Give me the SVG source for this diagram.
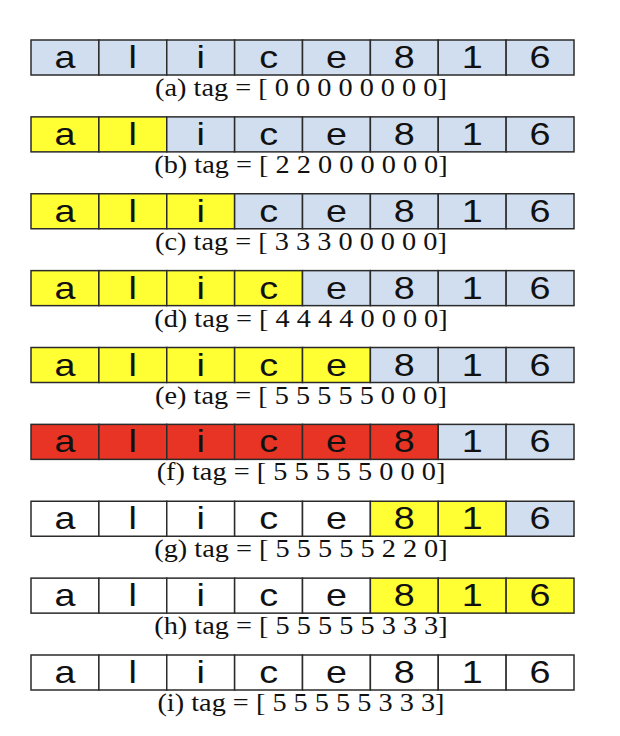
<svg xmlns="http://www.w3.org/2000/svg" width="620" height="736" viewBox="0 0 620 736">
<style>
.c rect{stroke:#2b2b2b;stroke-width:1.5}
.b{fill:#D0DEEF}
.y{fill:#FFFF33}
.r{fill:#E83424}
.w{fill:#FFFFFF}
.t{font-family:"Liberation Sans",Arial,sans-serif;font-size:32px;fill:#111;text-anchor:middle}
.l{font-family:"Liberation Serif","Times New Roman",serif;font-size:26px;fill:#111;text-anchor:middle}
</style>
<rect x="0" y="0" width="620" height="736" fill="#fff"/>
<defs>
<g id="letters">
<text class="t" transform="translate(64.9,28) scale(1.18,1)">a</text>
<text class="t" transform="translate(132.8,28) scale(1.18,1)">l</text>
<text class="t" transform="translate(200.7,28) scale(1.18,1)">i</text>
<text class="t" transform="translate(268.6,28) scale(1.18,1)">c</text>
<text class="t" transform="translate(336.4,28) scale(1.18,1)">e</text>
<text class="t" transform="translate(404.3,28) scale(1.18,1)">8</text>
<text class="t" transform="translate(472.2,28) scale(1.18,1)">1</text>
<text class="t" transform="translate(540.1,28) scale(1.18,1)">6</text>
</g>
</defs>
<g id="connectors"></g>

<g id="row-a" class="c" transform="translate(0,40)">
<rect class="b" x="31" y="0" width="67.875" height="35"/><rect class="b" x="98.875" y="0" width="67.875" height="35"/><rect class="b" x="166.75" y="0" width="67.875" height="35"/><rect class="b" x="234.625" y="0" width="67.875" height="35"/><rect class="b" x="302.5" y="0" width="67.875" height="35"/><rect class="b" x="370.375" y="0" width="67.875" height="35"/><rect class="b" x="438.25" y="0" width="67.875" height="35"/><rect class="b" x="506.125" y="0" width="67.875" height="35"/>
<use href="#letters"/>
<text class="l" x="301" y="56" textLength="291.8" lengthAdjust="spacingAndGlyphs">(a) tag = [ 0 0 0 0 0 0 0 0]</text>
</g>

<g id="row-b" class="c" transform="translate(0,116.875)">
<rect class="y" x="31" y="0" width="67.875" height="35"/><rect class="y" x="98.875" y="0" width="67.875" height="35"/><rect class="b" x="166.75" y="0" width="67.875" height="35"/><rect class="b" x="234.625" y="0" width="67.875" height="35"/><rect class="b" x="302.5" y="0" width="67.875" height="35"/><rect class="b" x="370.375" y="0" width="67.875" height="35"/><rect class="b" x="438.25" y="0" width="67.875" height="35"/><rect class="b" x="506.125" y="0" width="67.875" height="35"/>
<use href="#letters"/>
<text class="l" x="301" y="56" textLength="293.4" lengthAdjust="spacingAndGlyphs">(b) tag = [ 2 2 0 0 0 0 0 0]</text>
</g>

<g id="row-c" class="c" transform="translate(0,193.75)">
<rect class="y" x="31" y="0" width="67.875" height="35"/><rect class="y" x="98.875" y="0" width="67.875" height="35"/><rect class="y" x="166.75" y="0" width="67.875" height="35"/><rect class="b" x="234.625" y="0" width="67.875" height="35"/><rect class="b" x="302.5" y="0" width="67.875" height="35"/><rect class="b" x="370.375" y="0" width="67.875" height="35"/><rect class="b" x="438.25" y="0" width="67.875" height="35"/><rect class="b" x="506.125" y="0" width="67.875" height="35"/>
<use href="#letters"/>
<text class="l" x="301" y="56" textLength="291.8" lengthAdjust="spacingAndGlyphs">(c) tag = [ 3 3 3 0 0 0 0 0]</text>
</g>

<g id="row-d" class="c" transform="translate(0,270.625)">
<rect class="y" x="31" y="0" width="67.875" height="35"/><rect class="y" x="98.875" y="0" width="67.875" height="35"/><rect class="y" x="166.75" y="0" width="67.875" height="35"/><rect class="y" x="234.625" y="0" width="67.875" height="35"/><rect class="b" x="302.5" y="0" width="67.875" height="35"/><rect class="b" x="370.375" y="0" width="67.875" height="35"/><rect class="b" x="438.25" y="0" width="67.875" height="35"/><rect class="b" x="506.125" y="0" width="67.875" height="35"/>
<use href="#letters"/>
<text class="l" x="301" y="56" textLength="293.4" lengthAdjust="spacingAndGlyphs">(d) tag = [ 4 4 4 4 0 0 0 0]</text>
</g>

<g id="row-e" class="c" transform="translate(0,347.5)">
<rect class="y" x="31" y="0" width="67.875" height="35"/><rect class="y" x="98.875" y="0" width="67.875" height="35"/><rect class="y" x="166.75" y="0" width="67.875" height="35"/><rect class="y" x="234.625" y="0" width="67.875" height="35"/><rect class="y" x="302.5" y="0" width="67.875" height="35"/><rect class="b" x="370.375" y="0" width="67.875" height="35"/><rect class="b" x="438.25" y="0" width="67.875" height="35"/><rect class="b" x="506.125" y="0" width="67.875" height="35"/>
<use href="#letters"/>
<text class="l" x="301" y="56" textLength="291.8" lengthAdjust="spacingAndGlyphs">(e) tag = [ 5 5 5 5 5 0 0 0]</text>
</g>

<g id="row-f" class="c" transform="translate(0,424.375)">
<rect class="r" x="31" y="0" width="67.875" height="35"/><rect class="r" x="98.875" y="0" width="67.875" height="35"/><rect class="r" x="166.75" y="0" width="67.875" height="35"/><rect class="r" x="234.625" y="0" width="67.875" height="35"/><rect class="r" x="302.5" y="0" width="67.875" height="35"/><rect class="r" x="370.375" y="0" width="67.875" height="35"/><rect class="b" x="438.25" y="0" width="67.875" height="35"/><rect class="b" x="506.125" y="0" width="67.875" height="35"/>
<use href="#letters"/>
<text class="l" x="301" y="56" textLength="288.7" lengthAdjust="spacingAndGlyphs">(f) tag = [ 5 5 5 5 5 0 0 0]</text>
</g>

<g id="row-g" class="c" transform="translate(0,501.25)">
<rect class="w" x="31" y="0" width="67.875" height="35"/><rect class="w" x="98.875" y="0" width="67.875" height="35"/><rect class="w" x="166.75" y="0" width="67.875" height="35"/><rect class="w" x="234.625" y="0" width="67.875" height="35"/><rect class="w" x="302.5" y="0" width="67.875" height="35"/><rect class="y" x="370.375" y="0" width="67.875" height="35"/><rect class="y" x="438.25" y="0" width="67.875" height="35"/><rect class="b" x="506.125" y="0" width="67.875" height="35"/>
<use href="#letters"/>
<text class="l" x="301" y="56" textLength="293.4" lengthAdjust="spacingAndGlyphs">(g) tag = [ 5 5 5 5 5 2 2 0]</text>
</g>

<g id="row-h" class="c" transform="translate(0,578.125)">
<rect class="w" x="31" y="0" width="67.875" height="35"/><rect class="w" x="98.875" y="0" width="67.875" height="35"/><rect class="w" x="166.75" y="0" width="67.875" height="35"/><rect class="w" x="234.625" y="0" width="67.875" height="35"/><rect class="w" x="302.5" y="0" width="67.875" height="35"/><rect class="y" x="370.375" y="0" width="67.875" height="35"/><rect class="y" x="438.25" y="0" width="67.875" height="35"/><rect class="y" x="506.125" y="0" width="67.875" height="35"/>
<use href="#letters"/>
<text class="l" x="301" y="56" textLength="293.4" lengthAdjust="spacingAndGlyphs">(h) tag = [ 5 5 5 5 5 3 3 3]</text>
</g>

<g id="row-i" class="c" transform="translate(0,655)">
<rect class="w" x="31" y="0" width="67.875" height="35"/><rect class="w" x="98.875" y="0" width="67.875" height="35"/><rect class="w" x="166.75" y="0" width="67.875" height="35"/><rect class="w" x="234.625" y="0" width="67.875" height="35"/><rect class="w" x="302.5" y="0" width="67.875" height="35"/><rect class="w" x="370.375" y="0" width="67.875" height="35"/><rect class="w" x="438.25" y="0" width="67.875" height="35"/><rect class="w" x="506.125" y="0" width="67.875" height="35"/>
<use href="#letters"/>
<text class="l" x="301" y="56" textLength="287.1" lengthAdjust="spacingAndGlyphs">(i) tag = [ 5 5 5 5 5 3 3 3]</text>
</g>
</svg>
